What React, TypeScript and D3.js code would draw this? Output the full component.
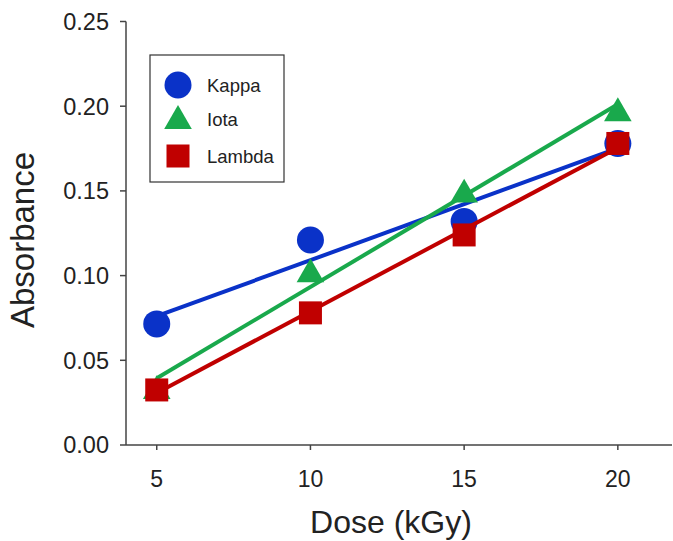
import React from "react";
import * as d3 from "d3";

const doses = [5, 10, 15, 20];
const kappa = [0.0715, 0.121, 0.132, 0.178];
const iota = [0.033, 0.102, 0.149, 0.197];
const lambda = [0.0325, 0.078, 0.124, 0.178];
const xTicks = [5, 10, 15, 20];
const yTicks = [0, 0.05, 0.1, 0.15, 0.2, 0.25];

const series = [
  { name: "Kappa", values: kappa, color: "#0a32c8", shape: "circle" },
  { name: "Iota", values: iota, color: "#19a94c", shape: "triangle" },
  { name: "Lambda", values: lambda, color: "#c00000", shape: "square" },
];

function fit(xs: number[], ys: number[]) {
  const mx = d3.mean(xs)!;
  const my = d3.mean(ys)!;
  let num = 0, den = 0;
  xs.forEach((x, i) => { num += (x - mx) * (ys[i] - my); den += (x - mx) ** 2; });
  const b = num / den;
  return (x: number) => my + b * (x - mx);
}

function Marker({ shape, cx, cy, color }: { shape: string; cx: number; cy: number; color: string }) {
  if (shape === "circle") return <circle cx={cx} cy={cy} r={13.5} fill={color} />;
  if (shape === "square") return <rect x={cx - 11.5} y={cy - 11.5} width={23} height={23} fill={color} />;
  const sym = d3.symbol().type(d3.symbolTriangle).size(330)();
  return <path d={sym!} transform={`translate(${cx},${cy + 2})`} fill={color} />;
}

export default function App() {
  const W = 673, H = 541;
  const x = d3.scaleLinear().domain([4, 22]).range([126, 126 + 18 * 30.74]);
  const y = d3.scaleLinear().domain([0, 0.25]).range([445, 21.5]);
  const font = "'Liberation Sans', Arial, sans-serif";
  return (
    <svg width={W} height={H} style={{ position: "absolute", left: 0, top: 0, background: "#fff" }} fontFamily={font}>
      {/* axes */}
      <line x1={126} x2={126} y1={y(0.25)} y2={445} stroke="#444" strokeWidth={1.5} />
      <line x1={126} x2={672} y1={445} y2={445} stroke="#444" strokeWidth={1.5} />
      {yTicks.map((t) => (
        <g key={t}>
          <line x1={120} x2={126} y1={y(t)} y2={y(t)} stroke="#444" strokeWidth={1.5} />
          <text x={109} y={y(t)} dy="0.36em" textAnchor="end" fontSize={23.5} fill="#222">{t.toFixed(2)}</text>
        </g>
      ))}
      {xTicks.map((t) => (
        <g key={t}>
          <line x1={x(t)} x2={x(t)} y1={445} y2={450} stroke="#444" strokeWidth={1.5} />
          <text x={x(t)} y={487} textAnchor="middle" fontSize={23} fill="#222">{t}</text>
        </g>
      ))}
      <text x={391} y={533} textAnchor="middle" fontSize={32} fill="#222">Dose (kGy)</text>
      <text transform={`translate(34,240) rotate(-90)`} textAnchor="middle" fontSize={33} fill="#222">Absorbance</text>

      {/* series */}
      {series.map((s) => {
        const f = fit(doses, s.values);
        return (
          <g key={s.name}>
            <line x1={x(doses[0])} y1={y(f(doses[0]))} x2={x(doses[doses.length - 1])} y2={y(f(doses[doses.length - 1]))}
              stroke={s.color} strokeWidth={4} />
            {s.values.map((v, i) => (
              <Marker key={i} shape={s.shape} cx={x(doses[i])} cy={y(v)} color={s.color} />
            ))}
          </g>
        );
      })}

      {/* legend */}
      <rect x={150} y={55} width={134} height={127} fill="#fff" stroke="#333" strokeWidth={1.2} />
      {series.map((s, i) => {
        const cy = [85, 119, 156][i];
        return (
          <g key={s.name}>
            <Marker shape={s.shape} cx={178} cy={cy} color={s.color} />
            <text x={207} y={cy} dy="0.36em" fontSize={18.5} fill="#222">{s.name}</text>
          </g>
        );
      })}
    </svg>
  );
}
